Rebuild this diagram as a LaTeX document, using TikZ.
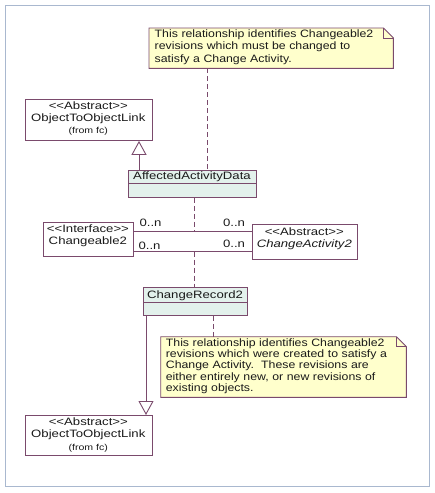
\documentclass[tikz,border=0pt]{standalone}
\usepackage{fontspec}
\newfontfamily\uml{Liberation Sans}[FakeStretch=1.23]
\newfontfamily\umln{Liberation Sans}[FakeStretch=1.15]
\usetikzlibrary{arrows.meta,calc}
\definecolor{frm}{HTML}{A9B8CF}
\definecolor{bc}{HTML}{7A4A6C}
\definecolor{cfill}{HTML}{E3F1EC}
\definecolor{nfill}{HTML}{FFFFCC}
\definecolor{txt}{HTML}{1A1A1A}
\tikzset{
  box/.style={draw=bc, line width=0.9pt, fill=white, inner sep=0pt, anchor=north west},
  cbox/.style={box, fill=cfill},
  lbl/.style={font=\uml\fontsize{10.7}{12.3}\selectfont, text=txt, align=center, inner sep=0pt},
  notebox/.style={inner xsep=5.5pt, inner ysep=0pt, anchor=north west, align=left, text=txt},
  noteline/.style={draw=bc, line width=0.9pt, fill=nfill},
  gen/.style={draw=bc, line width=0.9pt, -{Triangle[open, length=14pt, width=15pt, fill=white]}},
  assoc/.style={draw=bc, line width=0.9pt},
  dsh/.style={draw=bc, line width=0.8pt, dash pattern=on 5pt off 3pt},
}
\begin{document}
\begin{tikzpicture}[x=1pt,y=-1pt]
\useasboundingbox (0,0) rectangle (435,493);
\draw[frm, line width=1.5pt] (5.7,5.7) rectangle (429.3,486.7);

% top note
\node[notebox, minimum width=244pt, minimum height=40pt] (n1) at (149,28) {};
\draw[noteline] (n1.north west) -- ($(n1.north east)+(-10,0)$) -- ($(n1.north east)+(0,10)$) -- (n1.south east) -- (n1.south west) -- cycle;
\draw[bc, line width=0.8pt] ($(n1.north east)+(-10,0)$) -- ($(n1.north east)+(-10,10)$) -- ($(n1.north east)+(0,10)$);
\node[notebox, text width=236pt, anchor=west, font=\umln\fontsize{10.7}{12.2}\selectfont] (n1t) at ($(n1.west)+(0,-1)$)
  {This relationship identifies Changeable2\\revisions which must be changed to\\satisfy a Change Activity.};

% ObjectToObjectLink (top)
\node[box, minimum width=126.7pt, minimum height=41pt] (ootlA) at (25,99) {};
\node[lbl] (ootlAt) at (88.3,118.5) {<\kern0pt<Abstract>\kern0pt>\\ObjectToObjectLink\\{\fontsize{8.6}{10}\selectfont (from fc)}};

% AffectedActivityData
\node[cbox, minimum width=128pt, minimum height=27pt] (aad) at (128,170) {};
\draw[bc, line width=0.8pt] ($(aad.north west)+(0,13.5)$) -- ($(aad.north east)+(0,13.5)$);
\node[lbl] (aadt) at (192,176.8) {AffectedActivityData};

% Changeable2
\node[box, minimum width=90.3pt, minimum height=34.3pt] (c2) at (42.7,221.7) {};
\node[lbl] (c2t) at (87.9,235.5) {<\kern0pt<Interface>\kern0pt>\\Changeable2};

% ChangeActivity2
\node[box, minimum width=105.3pt, minimum height=35pt] (ca2) at (251.7,224) {};
\node[lbl] (ca2t) at (304.3,239) {<\kern0pt<Abstract>\kern0pt>\\\textit{ChangeActivity2}};

% ChangeRecord2
\node[cbox, minimum width=104pt, minimum height=28pt] (cr2) at (143,287) {};
\draw[bc, line width=0.8pt] ($(cr2.north west)+(0,15)$) -- ($(cr2.north east)+(0,15)$);
\node[lbl] (cr2t) at (195,295.5) {ChangeRecord2};

% bottom note
\node[notebox, minimum width=245.3pt, minimum height=60.3pt] (n2) at (160.7,336.7) {};
\draw[noteline] (n2.north west) -- ($(n2.north east)+(-10,0)$) -- ($(n2.north east)+(0,10)$) -- (n2.south east) -- (n2.south west) -- cycle;
\draw[bc, line width=0.8pt] ($(n2.north east)+(-10,0)$) -- ($(n2.north east)+(-10,10)$) -- ($(n2.north east)+(0,10)$);
\node[notebox, text width=236pt, inner xsep=5pt, anchor=west, font=\umln\fontsize{10.7}{11.3}\selectfont] (n2t) at ($(n2.west)+(0,-1)$)
  {This relationship identifies Changeable2\\revisions which were created to satisfy a\\Change Activity.\ \ These revisions are\\either entirely new, or new revisions of\\existing objects.};

% ObjectToObjectLink (bottom)
\node[box, minimum width=126.7pt, minimum height=40pt] (ootlB) at (25,415) {};
\node[lbl] (ootlBt) at (88.3,435) {<\kern0pt<Abstract>\kern0pt>\\ObjectToObjectLink\\{\fontsize{8.6}{10}\selectfont (from fc)}};

% generalizations
\coordinate (g1) at ($(aad.north west)+(11,0)$);
\draw[gen] (g1) -- (g1 |- ootlA.south);
\coordinate (g2) at ($(cr2.south west)+(3,0)$);
\draw[gen] (g2) -- (g2 |- ootlB.north);

% associations
\coordinate (a1l) at ($(c2.north east)+(0,9.3)$);
\coordinate (a2l) at ($(c2.north east)+(0,30)$);
\draw[assoc] (a1l) -- (a1l -| ca2.west);
\draw[assoc] (a2l) -- (a2l -| ca2.west);
\node[lbl] (m1) at (150.5,223) {0..n};
\node[lbl] (m2) at (149.5,245.5) {0..n};
\node[lbl] (m3) at (234,223) {0..n};
\node[lbl] (m4) at (234,243.5) {0..n};

% dashed association-class / note links
\coordinate (aadb) at ($(aad.south)+(1.5,0)$);
\draw[dsh] (aadb) -- (aadb |- a1l);
\draw[dsh] (aadb |- a2l) -- (aadb |- cr2.north);
\coordinate (n1foot) at ($(n1.south west)+(58,0)$);
\draw[dsh] (n1foot) -- (n1foot |- aad.north);
\coordinate (cr2foot) at ($(cr2.south west)+(70,0)$);
\draw[dsh] (cr2foot) -- (cr2foot |- n2.north);
\end{tikzpicture}
\end{document}
